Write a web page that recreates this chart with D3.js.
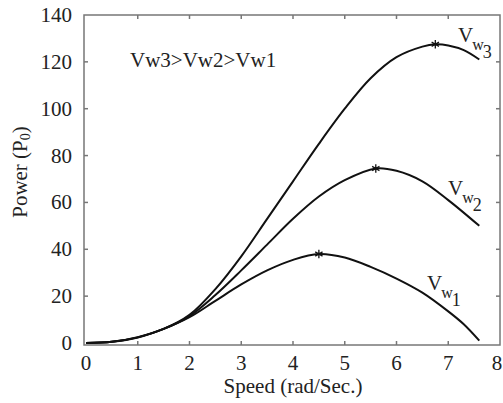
<!DOCTYPE html>
<html>
<head>
<meta charset="utf-8">
<script src="https://cdn.jsdelivr.net/npm/d3@7"></script>
<style>
  html, body { margin: 0; padding: 0; background: #fff; }
</style>
</head>
<body>
<svg id="chart" width="503" height="403" font-family="'Liberation Serif', 'Times New Roman', 'DejaVu Serif', serif"></svg>
<script>
'use strict';

// ── Data ──────────────────────────────────────────────────────────────────
const speed1 = [0, 0.5, 1, 1.5, 2, 2.5, 3, 3.5, 4, 4.5, 5, 5.5, 6, 6.5, 7, 7.3, 7.6];
const power1 = [0, 0.5, 2.3, 6, 11, 18, 25, 31, 35.5, 38, 36.5, 32.5, 27.5, 21.5, 13.5, 8, 1];

const speed2 = [0, 0.5, 1, 1.5, 2, 2.5, 3, 3.5, 4, 4.5, 5, 5.6, 6, 6.5, 7, 7.6];
const power2 = [0, 0.5, 2.4, 6, 11.5, 20.5, 31, 42, 53, 62.5, 69.5, 74.5, 73.5, 69, 61, 50];

const speed3 = [0, 0.5, 1, 1.5, 2, 2.5, 3, 3.5, 4, 4.5, 5, 5.5, 6, 6.5, 6.75, 7, 7.3, 7.6];
const power3 = [0, 0.5, 2.5, 6, 12, 23, 37, 53, 69, 85, 100, 113, 122, 126.5, 127.5, 127, 125, 121];

const peakSpeed = [4.5, 5.6, 6.75];
const peakPower = [38, 74.5, 127.5];

const xTicks = [0, 1, 2, 3, 4, 5, 6, 7, 8];
const yTicks = [0, 20, 40, 60, 80, 100, 120, 140];

// ── Layout ────────────────────────────────────────────────────────────────
const L = 84, R = 500, T = 15, B = 345;
const svg = d3.select('#chart');

const x = d3.scaleLinear().domain([0, 8]).range([L + 2, R]);
const y = d3.scaleLinear().domain([0, 140]).range([B - 2, T]);

const AXIS = '#777';
const INK  = '#222';
const FS   = 21;

// frame
svg.append('rect')
  .attr('x', L).attr('y', T)
  .attr('width', R - L).attr('height', B - T)
  .attr('fill', 'none')
  .attr('stroke', AXIS)
  .attr('stroke-width', 1.5);

// ticks (inward, all four sides)
const tick = 4;
xTicks.slice(1, -1).forEach(v => {
  svg.append('line').attr('x1', x(v)).attr('x2', x(v)).attr('y1', B).attr('y2', B - tick)
    .attr('stroke', AXIS).attr('stroke-width', 1.5);
  svg.append('line').attr('x1', x(v)).attr('x2', x(v)).attr('y1', T).attr('y2', T + tick)
    .attr('stroke', AXIS).attr('stroke-width', 1.5);
});
yTicks.slice(1, -1).forEach(v => {
  svg.append('line').attr('x1', L).attr('x2', L + tick).attr('y1', y(v)).attr('y2', y(v))
    .attr('stroke', AXIS).attr('stroke-width', 1.5);
  svg.append('line').attr('x1', R).attr('x2', R - tick).attr('y1', y(v)).attr('y2', y(v))
    .attr('stroke', AXIS).attr('stroke-width', 1.5);
});

// tick labels (last one nudged in so it stays on the page)
svg.selectAll('.xt').data(xTicks).enter().append('text')
  .attr('x', d => Math.min(x(d), 497))
  .attr('y', 370)
  .attr('text-anchor', 'middle')
  .attr('font-size', FS)
  .attr('fill', INK)
  .text(d => d);

svg.selectAll('.yt').data(yTicks).enter().append('text')
  .attr('x', 72).attr('y', d => y(d) + 7)
  .attr('text-anchor', 'end')
  .attr('font-size', FS)
  .attr('fill', INK)
  .text(d => d);

// axis titles
svg.append('text')
  .attr('x', 293).attr('y', 393)
  .attr('text-anchor', 'middle')
  .attr('font-size', FS)
  .attr('fill', INK)
  .text('Speed (rad/Sec.)');

const yt = svg.append('text')
  .attr('transform', `translate(27, 172) rotate(-90)`)
  .attr('text-anchor', 'middle')
  .attr('font-size', FS)
  .attr('fill', INK);
yt.append('tspan').text('Power (P');
yt.append('tspan').attr('font-size', 14).attr('dy', 3).text('0');
yt.append('tspan').attr('dy', -3).text(')');

// ── Curves ────────────────────────────────────────────────────────────────
const line = d3.line()
  .x(d => x(d[0]))
  .y(d => y(d[1]))
  .curve(d3.curveCatmullRom.alpha(0.5));

[[speed1, power1], [speed2, power2], [speed3, power3]].forEach(([s, p]) => {
  svg.append('path')
    .datum(d3.zip(s, p))
    .attr('d', line)
    .attr('fill', 'none')
    .attr('stroke', '#111')
    .attr('stroke-width', 2);
});

// peak markers (asterisks)
const star = d3.symbol().type(d3.symbolAsterisk).size(50);
peakSpeed.forEach((s, i) => {
  svg.append('path')
    .attr('d', star)
    .attr('transform', `translate(${x(s)}, ${y(peakPower[i])})`)
    .attr('fill', 'none')
    .attr('stroke', '#111')
    .attr('stroke-width', 1.3);
});

// curve labels  V_w_n
function vLabel(px, py, n) {
  const t = svg.append('text').attr('x', px).attr('y', py).attr('font-size', FS).attr('fill', INK);
  t.append('tspan').text('V');
  t.append('tspan').attr('font-size', 16).attr('dx', -1).attr('dy', 8).text('w');
  t.append('tspan').attr('font-size', 18).attr('dx', -1).attr('dy', 8).text(n);
}
vLabel(458, 42, '3');
vLabel(448, 195, '2');
vLabel(427, 290, '1');

// relation note
svg.append('text')
  .attr('x', 130).attr('y', 67)
  .attr('font-size', FS)
  .attr('fill', INK)
  .text('Vw3>Vw2>Vw1');
</script>
</body>
</html>
